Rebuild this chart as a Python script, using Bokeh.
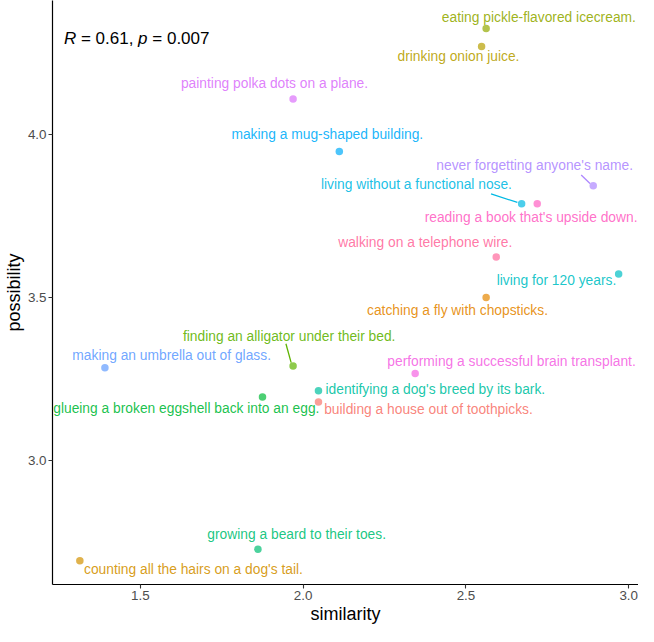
from bokeh.plotting import figure
from bokeh.models import Range1d, FixedTicker, ColumnDataSource
from bokeh.core.properties import value
from bokeh.embed import file_html
from bokeh.resources import INLINE

names = ["building a house out of toothpicks.", "catching a fly with chopsticks.",
         "counting all the hairs on a dog's tail.", "drinking onion juice.",
         "eating pickle-flavored icecream.", "finding an alligator under their bed.",
         "glueing a broken eggshell back into an egg.", "growing a beard to their toes.",
         "identifying a dog's breed by its bark.", "living for 120 years.",
         "living without a functional nose.", "making a mug-shaped building.",
         "making an umbrella out of glass.", "never forgetting anyone's name.",
         "painting polka dots on a plane.", "performing a successful brain transplant.",
         "reading a book that's upside down.", "walking on a telephone wire."]
similarity = [2.047, 2.562, 1.314, 2.548, 2.562, 1.969, 1.875, 1.861, 2.047,
              2.969, 2.671, 2.111, 1.391, 2.891, 1.969, 2.344, 2.719, 2.593]
possibility = [3.179, 3.500, 2.693, 4.269, 4.324, 3.290, 3.195, 2.728, 3.214,
               3.572, 3.787, 3.947, 3.284, 3.842, 4.108, 3.267, 3.787, 3.624]
label_x = [2.385, 2.474, 1.663, 2.477, 2.724, 1.957, 1.641, 1.980, 2.406,
           2.778, 2.348, 2.074, 1.596, 2.711, 1.912, 2.640, 2.700, 2.375]
label_y = [3.155, 3.460, 2.666, 4.239, 4.358, 3.380, 3.160, 2.772, 3.219,
           3.553, 3.845, 4.000, 3.322, 3.905, 4.156, 3.305, 3.746, 3.667]
colors = ["#F8766D", "#E58700", "#D39200", "#B79F00", "#93AA00", "#5EB300",
          "#00BA38", "#00BF74", "#00C19F", "#00BFC4", "#00B9E3", "#00ADFA",
          "#619CFF", "#AE87FF", "#DB72FB", "#F564E3", "#FF61C3", "#FF699C"]
# connector segments (label end -> point)
seg_x0 = [1.947, 2.854, 2.577]
seg_y0 = [3.358, 3.875, 3.817]
seg_x1 = [1.963, 2.881, 2.658]
seg_y1 = [3.300, 3.849, 3.791]
seg_colors = ["#5EB300", "#AE87FF", "#00B9E3"]
x_ticks = [1.5, 2.0, 2.5, 3.0]
y_ticks = [3.0, 3.5, 4.0]
stat_x = 1.265
stat_y = 4.294

FONT = "Liberation Sans"

p = figure(width=638, height=626, output_backend="svg", toolbar_location=None,
           x_range=Range1d(1.23, 3.03), y_range=Range1d(2.62, 4.41),
           min_border_left=40, min_border_right=0, min_border_top=0, min_border_bottom=30)
p.outline_line_color = None
p.xgrid.visible = False
p.ygrid.visible = False
p.background_fill_color = "white"
p.border_fill_color = "white"

for ax in (p.xaxis[0], p.yaxis[0]):
    ax.axis_line_color = "black"
    ax.axis_line_width = 1.2
    ax.major_tick_line_color = "#333333"
    ax.major_tick_line_width = 1.1
    ax.major_tick_out = 4
    ax.major_tick_in = 0
    ax.minor_tick_line_color = None
    ax.major_label_text_font = FONT
    ax.major_label_text_font_size = "13.4px"
    ax.major_label_text_color = "#4D4D4D"
    ax.axis_label_text_font = FONT
    ax.axis_label_text_font_size = "18px"
    ax.axis_label_text_font_style = "normal"
    ax.axis_label_text_color = "black"
    ax.major_label_standoff = 2
    ax.axis_label_standoff = 1

p.xaxis.ticker = FixedTicker(ticks=x_ticks)
p.yaxis.ticker = FixedTicker(ticks=y_ticks)
p.xaxis.major_label_overrides = {t: f"{t:.1f}" for t in x_ticks}
p.yaxis.major_label_overrides = {t: f"{t:.1f}" for t in y_ticks}
p.xaxis.axis_label = "similarity"
p.yaxis.axis_label = "possibility"

src = ColumnDataSource(dict(x=similarity, y=possibility, lx=label_x, ly=label_y,
                            name=names, color=colors))

p.segment(x0=seg_x0, y0=seg_y0, x1=seg_x1, y1=seg_y1, line_color=seg_colors, line_width=1.3)
p.scatter(x="x", y="y", source=src, size=7.5, fill_color="color", line_color=None,
          fill_alpha=0.7)
p.text(x="lx", y="ly", text="name", source=src, text_color="color",
       text_align="center", text_baseline="middle", text_font=value(FONT),
       text_font_size="13.8px", text_alpha=0.9)

# correlation label with italic R and p
pieces = ["R", "= 0.61,", "p", "= 0.007"]
offsets = [0, 17.0, 74.2, 88.4]
styles = ["italic", "normal", "italic", "normal"]
for t, o, s in zip(pieces, offsets, styles):
    p.text(x=[stat_x], y=[stat_y], text=[t], x_offset=o, text_color="black",
           text_align="left", text_baseline="middle", text_font=value(FONT),
           text_font_size="17px", text_font_style=s)

open("out.html", "w").write(file_html(p, INLINE))
